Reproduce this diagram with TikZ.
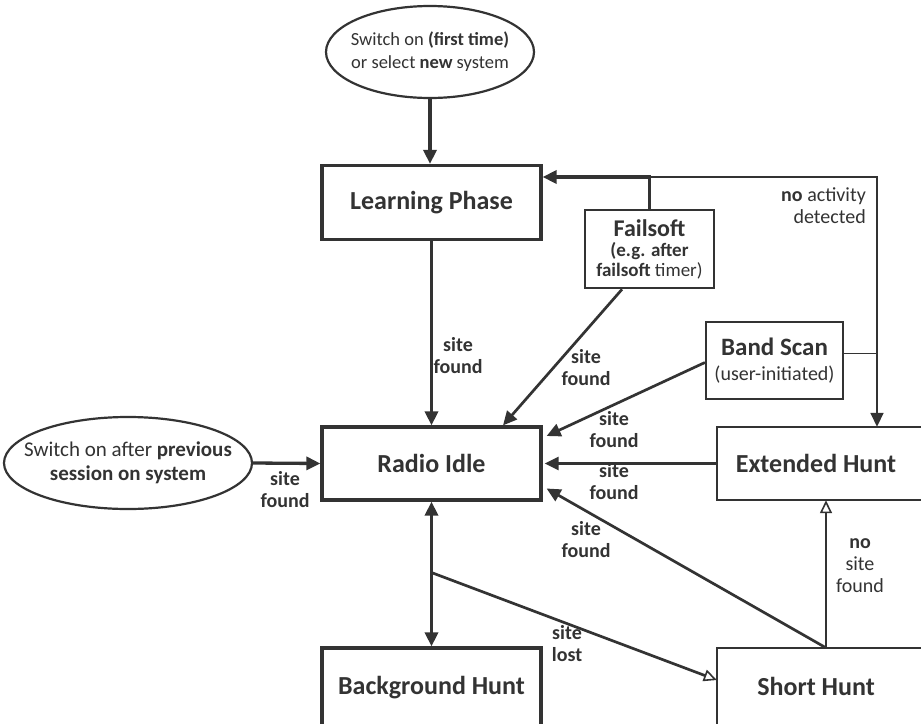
\documentclass[tikz,border=0pt]{standalone}
\usepackage{fontspec}
\setmainfont{Carlito}
\usetikzlibrary{arrows.meta,shapes.geometric,calc}
\definecolor{ink}{HTML}{333333}
\begin{document}
\begin{tikzpicture}[x=1pt,y=-1pt,
  every node/.style={text=ink},
  bigbox/.style={draw=ink,line width=3.2pt,minimum width=219pt,minimum height=74pt,inner sep=0pt,
     font=\fontsize{26}{30}\selectfont\bfseries},
  openbox/.style={minimum width=198pt,inner sep=0pt,font=\fontsize{26}{30}\selectfont\bfseries},
  ell/.style={ellipse,draw=ink,line width=2.2pt,align=center,inner xsep=-40pt,inner ysep=-20pt},
  lab/.style={font=\fontsize{20}{22}\selectfont\bfseries,align=center,inner sep=0pt},
  labr/.style={font=\fontsize{20}{22}\selectfont,align=center,inner sep=0pt},
  tip/.style={-{Triangle[length=14pt,width=13pt]}},
  otip/.style={-{Triangle[open,length=13pt,width=12pt,line width=1.6pt]}},
  heavy/.style={draw=ink,line width=3.3pt},
  medium/.style={draw=ink,line width=2.7pt},
  light/.style={draw=ink,line width=1.7pt}
]
\path[use as bounding box,fill=white] (0,0) rectangle (921,723);

% nodes
\node[ell,minimum width=208pt,minimum height=92pt,font=\fontsize{18.5}{23}\selectfont] (TE) at (430,52)
  {Switch on \textbf{(first time)}\\or select \textbf{new} system};
\node[ell,minimum width=248pt,minimum height=92pt,font=\fontsize{21}{24}\selectfont] (LE) at (128,463)
  {Switch on after \textbf{previous}\\\textbf{session on system}};
\node[bigbox] (LP) at (431.5,202.5) {Learning Phase};
\node[bigbox,minimum height=73pt] (RI) at (431.5,463.5) {Radio Idle};
\node[bigbox,minimum height=80pt] (BH) at (431.5,688) {Background Hunt};
\node[draw=ink,line width=2.6pt,minimum width=129pt,minimum height=78pt,align=center,inner sep=0pt,
      font=\fontsize{19}{20}\selectfont] (FS) at (649.5,249)
  {{\fontsize{24}{20}\selectfont\bfseries Failsoft}\\
   \textbf{(e.g. after}\\
   \textbf{failsoft} timer)};
\node[draw=ink,line width=2.2pt,minimum width=137pt,minimum height=77pt,align=center,inner sep=0pt,
      font=\fontsize{20}{25}\selectfont] (BS) at (774.5,360.5)
  {{\fontsize{25}{25}\selectfont\bfseries Band Scan}\\
   (user-initiated)};
\node[openbox,minimum height=73pt] (EH) at (816,463.5) {Extended Hunt};
\node[openbox,minimum height=76pt] (SH) at (816,686) {Short Hunt};
\draw[light] ($(EH.north east)+(30,0)$) -- (EH.north west) -- (EH.south west) -- ($(EH.south east)+(30,0)$);
\draw[light] ($(SH.north east)+(30,0)$) -- (SH.north west) -- ($(SH.south west)+(0,20)$);

% coordinates
\coordinate (C) at (877,177);
\coordinate (bse) at ($(BS.east)+(0,-7)$);
\coordinate (SHt) at ($(SH.north)+(10,0)$);
\coordinate (SL) at ($(RI.south)!0.49!(BH.north)$);

% connectors
\draw[heavy,tip] (TE.south) -- (TE.south |- LP.north);
\draw[heavy,tip] (LP.south) -- (RI.north);
\draw[heavy,tip] (FS.north) -- (FS.north |- C) -- (LP.east |- C);
\draw[light,tip] (FS.north |- C) -- (C) -- (C |- EH.north);
\draw[light] (bse) -- (bse -| C);
\draw[medium,tip] ($(FS.south)+(-27.5,0)$) -- ($(RI.north)+(71.5,0)$);
\draw[medium,tip] ($(BS.west)+(0,2)$) -- ($(RI.east)+(4,-27.5)$);
\draw[medium,tip] (EH.west) -- ($(RI.east)+(2,0)$);
\draw[medium,tip] (SHt) -- ($(RI.east)+(4,25)$);
\draw[light,otip] (SHt) -- ($(EH.south)+(10,0)$);
\draw[heavy,{Triangle[length=14pt,width=13pt]}-{Triangle[length=14pt,width=13pt]}] (RI.south) -- (BH.north);
\draw[medium,otip] (SL) -- ($(SH.west)+(0,-6)$);
\draw[heavy,tip] (LE.east) -- (RI.west);

% labels
\node[lab] (l1) at (458,356) {site\\found};
\node[lab] (l2) at (586,368) {site\\found};
\node[lab] (l3) at (614,430) {site\\found};
\node[lab] (l4) at (614,482) {site\\found};
\node[lab] (l5) at (586,540) {site\\found};
\node[lab] (l6) at (285,490) {site\\found};
\node[lab] (l7) at (567,644) {site\\lost};
\node[labr] (l8) at (860,566) {\textbf{no}\\site\\found};
\node[labr,align=right,anchor=north east] (l9) at (866,187) {\textbf{no} activity\\detected};
\end{tikzpicture}
\end{document}
